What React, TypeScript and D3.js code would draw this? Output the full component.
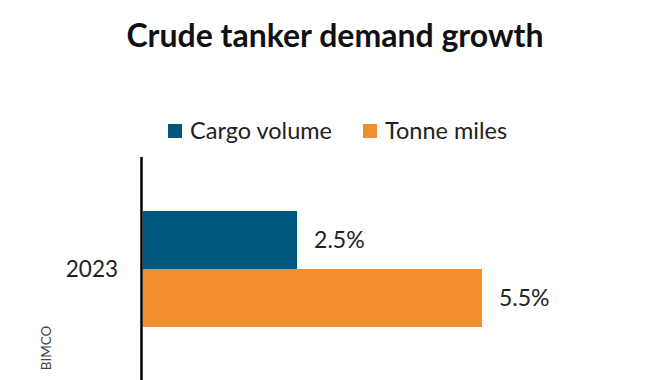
import React from "react";
import * as d3 from "d3";

const categories = ["2023"];
const seriesNames = ["Cargo volume", "Tonne miles"];
const cargoVolume = [2.5];
const tonneMiles = [5.5];
const colors = ["#00587C", "#F28E2F"];

const W = 670;
const H = 380;
const FONT = "Lato, 'Open Sans', sans-serif";

export default function App() {
  const x = d3.scaleLinear().domain([0, 5.5]).range([143, 482]);
  const y = d3.scaleBand().domain(categories).range([211, 327]);
  const inner = d3.scaleBand().domain(seriesNames).range([0, y.bandwidth()]);
  const series = [cargoVolume, tonneMiles];
  return (
    <svg width={W} height={H} style={{ position: "absolute", left: 0, top: 0, background: "#fff" }}>
      <text x={335} y={47} textAnchor="middle" fontFamily={FONT} fontWeight={700} fontSize={32} fill="#111">
        Crude tanker demand growth
      </text>
      {seriesNames.map((s, i) => {
        const lx = i === 0 ? 168 : 363;
        return (
          <g key={s}>
            <rect x={lx} y={124} width={14} height={14} fill={colors[i]} />
            <text x={lx + 22} y={139} fontFamily={FONT} fontSize={23.5} fill="#222">{s}</text>
          </g>
        );
      })}
      {categories.map((c, ci) => (
        <g key={c}>
          {series.map((vals, si) => {
            const by = (y(c) as number) + (inner(seriesNames[si]) as number);
            const bh = inner.bandwidth();
            return (
              <g key={si}>
                <rect x={x(0)} y={by} width={x(vals[ci]) - x(0)} height={bh} fill={colors[si]} />
                <text x={x(vals[ci]) + 17} y={by + bh / 2} dy="0.35em" fontFamily={FONT} fontSize={23} fill="#222">
                  {vals[ci].toFixed(1)}%
                </text>
              </g>
            );
          })}
          <text x={118} y={(y(c) as number) + y.bandwidth() / 2} dy="0.35em" textAnchor="end" fontFamily={FONT} fontSize={22.5} fill="#222">
            {c}
          </text>
        </g>
      ))}
      <line x1={141.5} x2={141.5} y1={157} y2={380} stroke="#000" strokeWidth={2.5} />
      <text transform="translate(51,348) rotate(-90)" textAnchor="middle" fontFamily={FONT} fontSize={13.5} fill="#444">
        BIMCO
      </text>
    </svg>
  );
}
